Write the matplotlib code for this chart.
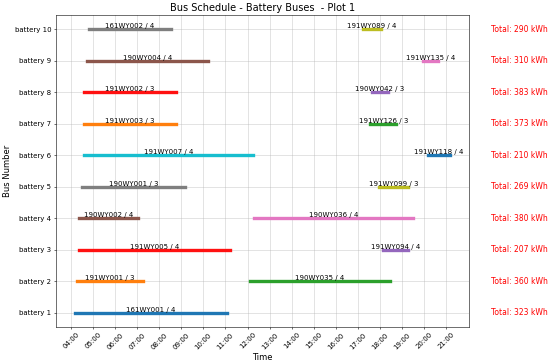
import matplotlib
matplotlib.use("Agg")
import matplotlib.pyplot as plt
import matplotlib.transforms as mtransforms

# trip data (hours of day)
battery = [1, 2, 2, 3, 3, 4, 4, 5, 5, 6, 6, 7, 7, 8, 8, 9, 9, 10, 10]
trip_label = ["161WY001 / 4",
              "191WY001 / 3", "190WY035 / 4",
              "191WY005 / 4", "191WY094 / 4",
              "190WY002 / 4", "190WY036 / 4",
              "190WY001 / 3", "191WY099 / 3",
              "191WY007 / 4", "191WY118 / 4",
              "191WY003 / 3", "191WY126 / 3",
              "191WY002 / 3", "190WY042 / 3",
              "190WY004 / 4", "191WY135 / 4",
              "161WY002 / 4", "191WY089 / 4"]
start = [4.18,
         4.28, 12.11,
         4.37, 18.14,
         4.39, 12.29,
         4.50, 17.95,
         4.60, 20.16,
         4.60, 17.56,
         4.60, 17.62,
         4.71, 19.95,
         4.80, 17.21]
end = [11.09,
       7.27, 18.43,
       11.22, 19.28,
       7.03, 19.51,
       9.15, 19.28,
       12.23, 21.16,
       8.76, 18.74,
       8.76, 18.38,
       10.23, 20.64,
       8.55, 18.04]
totals = [323, 360, 207, 380, 269, 210, 373, 383, 310, 290]
hours = list(range(4, 22))

colors = ["#1f77b4", "#ff7f0e", "#2ca02c", "#ff1111", "#9467bd",
          "#8c564b", "#e377c2", "#7f7f7f", "#bcbd22", "#17becf"]

fig = plt.figure(figsize=(11, 7.24), dpi=50)
ax = fig.add_axes([0.102, 0.0975, 0.75, 0.861])

for i in range(len(battery)):
    ax.plot([start[i], end[i]], [battery[i], battery[i]], lw=4.8,
            color=colors[i % len(colors)])
    ax.text((start[i] + end[i]) / 2, battery[i], trip_label[i],
            ha="center", va="bottom", fontsize=10)

trans = mtransforms.blended_transform_factory(ax.transAxes, ax.transData)
for b, t in enumerate(totals, start=1):
    ax.text(1.054, b, f"Total: {t} kWh", color="red", fontsize=11,
            va="center", ha="left", transform=trans)

ax.set_yticks(range(1, 11))
ax.set_yticklabels([f"battery {b}" for b in range(1, 11)], fontsize=10)
ax.set_xticks(hours)
ax.set_xticklabels([f"{h:02d}:00" for h in hours], rotation=45, fontsize=10)
ax.grid(True, alpha=0.5, lw=1)
ax.set_xlabel("Time", fontsize=12)
ax.set_ylabel("Bus Number", fontsize=12)
ax.set_title("Bus Schedule - Battery Buses  - Plot 1", fontsize=14)

fig.savefig("out.png", dpi=50)
